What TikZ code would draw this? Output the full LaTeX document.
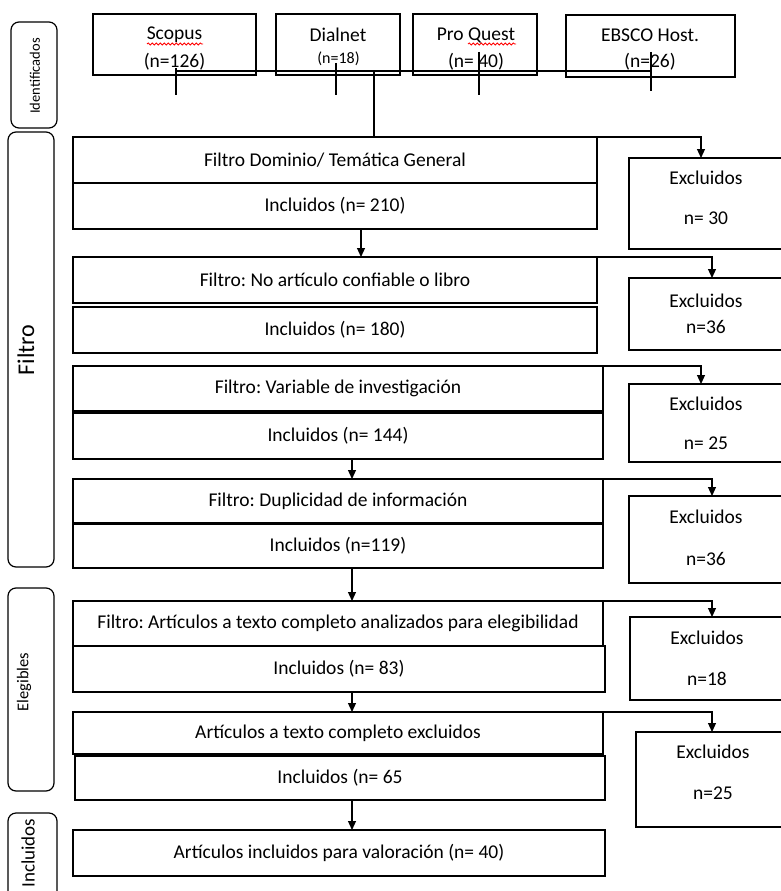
\documentclass[tikz,border=0pt]{standalone}
\usepackage{fontspec}
\setmainfont{Carlito}
\usetikzlibrary{arrows.meta,decorations.pathmorphing,calc}
\frenchspacing
\newcommand\fbx[6]{%
  \node[draw, txt, anchor=north west, minimum width={(#4-#2)*1pt}, minimum height={(#5-#3)*1pt}] (#1) at (#2,#3) {#6};}
\begin{document}
\begin{tikzpicture}[x=1pt,y=-1pt,
  line width=1.2pt,
  every node/.style={inner sep=0pt,outer sep=0pt},
  txt/.style={font=\fontsize{19.5}{23}\selectfont},
  arr/.style={-{Triangle[length=9pt,width=8pt]}},
  wavy/.style={draw=red, line width=0.8pt, decorate, decoration={snake,amplitude=1.1pt,segment length=4pt}},
  lab/.style={draw, rounded corners=8pt}]
\useasboundingbox (0,0) rectangle (780,891);

% ---------- left labels
\draw[lab] (11,22) rectangle (57,128);
\node[rotate=90, font=\fontsize{14.5}{17}\selectfont] (labId) at (35,76) {Identificados};
\draw[lab] (8,132) rectangle (54,567);
\node[rotate=90, font=\fontsize{24}{28}\selectfont] (labFil) at (26,350) {Filtro};
\draw[lab] (8,588) rectangle (54,791);
\node[rotate=90, font=\fontsize{16.5}{19}\selectfont] (labEl) at (24,682) {Elegibles};
\draw[lab] (8,813) rectangle (57,905);
\node[rotate=90, font=\fontsize{19}{22}\selectfont] (labInc) at (28,853) {Incluidos};

% ---------- top sources
\fbx{scopus}{93}{14}{256}{75}{}
\node[txt] (scopusA) at (174.5,35) {Scopus};
\node[txt] (scopusB) at (174.5,62) {(n=126)};
\fbx{dialnet}{276}{14}{400}{75}{}
\node[txt] (dialnetA) at (338,35) {Dialnet};
\node[font=\fontsize{16}{19}\selectfont] (dialnetB) at (338.5,59) {(n=18)};
\fbx{proquest}{413}{14}{537}{75}{}
\node[txt] (proquestA) at (476,35) {Pro Quest};
\node[txt] (proquestB) at (476,62) {(n= 40)};
\fbx{ebsco}{566}{15}{735}{77}{}
\node[txt] (ebscoA) at (650,35) {EBSCO Host.};
\node[txt] (ebscoB) at (650,62) {(n=26)};

\draw[wavy] (147,44) -- (203,44);
\draw[wavy] (468,44) -- (516,44);

\coordinate (hL) at (175,71);
\coordinate (hR) at (650,71);
\draw (hL) -- (hR);
\coordinate (t1a) at (176,68); \coordinate (t1b) at (176,95);
\coordinate (t2a) at (336,63); \coordinate (t2b) at (336,95);
\coordinate (t3a) at (479,52); \coordinate (t3b) at (479,95);
\coordinate (t4a) at (651,52); \coordinate (t4b) at (651,91);
\draw (t1a) -- (t1b);
\draw (t2a) -- (t2b);
\draw (t3a) -- (t3b);
\draw (t4a) -- (t4b);
\coordinate (mainTop) at (374,71);

% ---------- filter boxes
\fbx{b1a}{73}{137}{597}{183}{Filtro Dominio/ Temática General}
\fbx{b1b}{73}{183}{597}{229}{Incluidos (n= 210)}
\fbx{b2a}{73}{257}{597}{303}{Filtro: No artículo confiable o libro}
\fbx{b2b}{73}{307}{597}{353}{Incluidos (n= 180)}
\fbx{b3a}{73}{366}{603}{411}{Filtro: Variable de investigación}
\fbx{b3b}{73}{413}{603}{459}{Incluidos (n= 144)}
\fbx{b4a}{73}{479}{603}{523}{Filtro: Duplicidad de información}
\fbx{b4b}{73}{524}{603}{568}{Incluidos (n=119)}
\fbx{b5a}{73}{601}{603}{646}{Filtro: Artículos a texto completo analizados para elegibilidad}
\fbx{b5b}{73}{646}{605}{692}{Incluidos (n= 83)}
\fbx{b6a}{73}{712}{603}{754}{Artículos a texto completo excluidos}
\fbx{b6b}{75}{756}{605}{800}{Incluidos (n= 65}
\fbx{b7}{73}{830}{605}{876}{Artículos incluidos para valoración (n= 40)}

\draw (mainTop) -- (mainTop |- b1a.north);

% ---------- excluded boxes
\fbx{e1}{629}{158}{785}{249}{}
\node[txt] (e1a) at (706,178) {Excluidos};
\node[txt] (e1b) at (706,218) {n= 30};
\fbx{e2}{629}{278}{785}{350}{}
\node[txt] (e2a) at (706,301) {Excluidos};
\node[txt] (e2b) at (706,327) {n=36};
\fbx{e3}{629}{384}{785}{462}{}
\node[txt] (e3a) at (706,404) {Excluidos};
\node[txt] (e3b) at (706,443) {n= 25};
\fbx{e4}{629}{496}{785}{583}{}
\node[txt] (e4a) at (706,517) {Excluidos};
\node[txt] (e4b) at (706,559) {n=36};
\fbx{e5}{630}{617}{785}{700}{}
\node[txt] (e5a) at (707,638) {Excluidos};
\node[txt] (e5b) at (707,679) {n=18};
\fbx{e6}{636}{732}{785}{827}{}
\node[txt] (e6a) at (713,752) {Excluidos};
\node[txt] (e6b) at (713,793) {n=25};

% ---------- connector columns
\coordinate (cA) at (361,0);
\coordinate (cB) at (352,0);
\coordinate (xA) at (701,0);
\coordinate (xB) at (712,0);

% vertical arrows
\draw[arr] (b1b.south -| cA) -- (b2a.north -| cA);
\draw[arr] (b3b.south -| cB) -- (b4a.north -| cB);
\draw[arr] (b4b.south -| cB) -- (b5a.north -| cB);
\draw[arr] (b5b.south -| cB) -- (b6a.north -| cB);
\draw[arr] (b6b.south -| cB) -- (b7.north -| cB);

% arrows to excluded
\draw[arr] (b1a.north east) -| (xA |- e1.north);
\draw[arr] (b2a.north east) -| (xB |- e2.north);
\draw[arr] (b3a.north east) -| (xA |- e3.north);
\draw[arr] (b4a.north east) -| (xB |- e4.north);
\draw[arr] (b5a.north east) -| (xB |- e5.north);
\draw[arr] (b6a.north east) -| (xB |- e6.north);
\end{tikzpicture}
\end{document}
